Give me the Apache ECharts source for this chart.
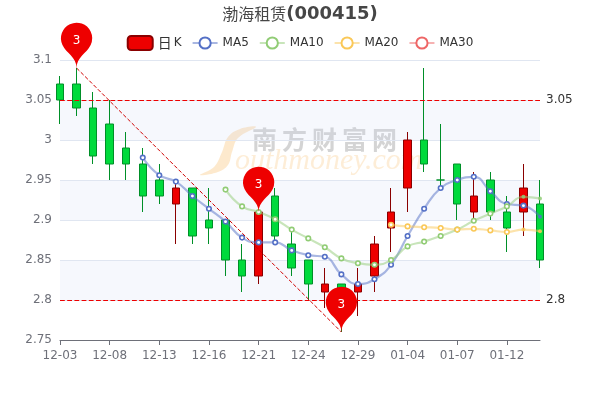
<!DOCTYPE html>
<html><head><meta charset="utf-8">
<style>html,body{margin:0;padding:0;background:#fff}#c{width:600px;height:400px}</style>
<script src="https://cdn.jsdelivr.net/npm/echarts@6/dist/echarts.min.js"></script>
</head><body><div id="c"></div>
<script>
const categories=['12-03','12-06','12-07','12-08','12-09','12-10','12-13','12-14','12-15','12-16','12-17','12-20','12-21','12-22','12-23','12-24','12-27','12-28','12-29','12-30','12-31','01-04','01-05','01-06','01-07','01-10','01-11','01-12','01-13','01-14'];
// open, close, low, high
const kline=[
[3.07,3.05,3.02,3.08],[3.07,3.04,3.03,3.09],[3.04,2.98,2.97,3.06],[3.02,2.97,2.95,3.05],[2.99,2.97,2.95,3.01],
[2.97,2.93,2.91,2.99],[2.95,2.93,2.92,2.97],[2.92,2.94,2.87,2.95],[2.94,2.88,2.87,2.94],[2.90,2.89,2.87,2.94],
[2.90,2.85,2.83,2.90],[2.85,2.83,2.81,2.87],[2.83,2.91,2.82,2.91],[2.93,2.88,2.875,2.94],[2.87,2.84,2.83,2.89],
[2.85,2.82,2.80,2.85],[2.81,2.82,2.79,2.84],[2.82,2.80,2.76,2.82],[2.81,2.82,2.78,2.84],[2.83,2.87,2.81,2.88],
[2.89,2.91,2.86,2.94],[2.94,3.00,2.91,3.01],[3.00,2.97,2.96,3.09],[2.95,2.95,2.94,3.02],[2.97,2.92,2.90,2.97],
[2.91,2.93,2.90,2.96],[2.95,2.91,2.90,2.96],[2.91,2.89,2.86,2.93],[2.91,2.94,2.88,2.97],[2.92,2.85,2.84,2.95]];
const N='-';
const ma5=[N,N,N,N,N,2.978,2.956,2.948,2.93,2.914,2.898,2.878,2.872,2.872,2.862,2.856,2.854,2.832,2.82,2.826,2.844,2.88,2.914,2.94,2.95,2.954,2.936,2.92,2.918,2.904];
const ma10=[N,N,N,N,N,N,N,N,N,N,2.938,2.917,2.91,2.901,2.888,2.877,2.866,2.852,2.846,2.844,2.85,2.867,2.873,2.88,2.888,2.899,2.908,2.917,2.929,2.927];
const ma20=[N,N,N,N,N,N,N,N,N,N,N,N,N,N,N,N,N,N,N,N,2.894,2.892,2.891,2.89,2.888,2.889,2.887,2.885,2.888,2.886];
const ma30=categories.map(()=>N);
const upperLine=3.05, lowerLine=2.8;
const pins=[[1,3.09],[12,2.91],[17,2.76]];
const trend=[[1,3.09],[17,2.76]];

const maSeries=(name,data,color,filled)=>({name,type:'line',
 data:data.map((v,i)=>filled.includes(i)?{value:v,symbolSize:4,itemStyle:{color,borderWidth:0,opacity:.85}}:v),
 smooth:true,symbol:'circle',symbolSize:4.5,showSymbol:true,
 itemStyle:{color:'#fff',borderColor:color,borderWidth:1.6},lineStyle:{color,width:2.2,opacity:.5},z:3});
const chart=echarts.init(document.getElementById('c'),null,{renderer:'canvas'});
chart.setOption({
 animation:false,backgroundColor:'#fff',
 title:{left:'center',top:0,text:'{a|渤海租赁}{b|(000415)}',textStyle:{rich:{a:{fontSize:16,color:'#464646',fontFamily:'Noto Sans CJK SC',fontWeight:'normal'},b:{fontSize:18,color:'#464646',fontFamily:'DejaVu Sans',fontWeight:'bold'}}}},
 legend:{top:30,left:'center',itemWidth:25,itemHeight:14,itemGap:10,
  textStyle:{fontFamily:'DejaVu Sans',fontSize:12,color:'#333',rich:{big:{fontSize:14,fontFamily:'Noto Sans CJK SC',color:'#333'},k:{fontSize:12,fontFamily:'DejaVu Sans',color:'#333',padding:[0,0,0,2]}}},
  formatter:n=>n==='日K'?'{big|日}{k|K}':n,
  data:[{name:'日K',itemStyle:{borderWidth:2}},'MA5','MA10','MA20','MA30']},
 grid:{left:60,right:60,top:60,bottom:60},
 graphic:[
  {type:'polygon',silent:true,z:0,shape:{smooth:0.4,points:[[256,127],[240,129],[228,137],[222,152],[214,167],[200,175],[218,172],[228,165],[232,152],[238,138]]},style:{fill:'rgba(250,200,130,0.4)'}},
  {type:'text',silent:true,z:0,left:252,top:127,style:{text:'南\u2009方\u2009财\u2009富\u2009网',fill:'rgba(170,170,170,0.5)',font:'bold 25px "Noto Sans CJK SC"'}},
  {type:'text',silent:true,z:0,left:235,top:146,style:{text:'outhmoney.com',fill:'rgba(250,200,130,0.32)',font:'italic 30px "Liberation Serif"'}}
 ],
 xAxis:{type:'category',data:categories,boundaryGap:false,
  axisLine:{lineStyle:{color:'#6E7079'}},axisTick:{interval:2,alignWithLabel:true},
  axisLabel:{interval:2,color:'#6E7079',fontFamily:'DejaVu Sans',fontSize:12,margin:10},splitLine:{show:false}},
 yAxis:{type:'value',min:2.75,max:3.1,interval:0.05,scale:true,
  axisLine:{show:false},axisTick:{show:false},
  axisLabel:{color:'#6E7079',fontFamily:'DejaVu Sans',fontSize:12,padding:[4,0,0,0]},
  splitLine:{lineStyle:{color:'#E0E6F1'}},
  splitArea:{show:true,areaStyle:{color:['rgba(255,255,255,0)','rgba(200,210,240,0.16)']}}},
 series:[
  {name:'日K',type:'candlestick',data:kline,barWidth:8,z:2,
   itemStyle:{color:'#ee0000',color0:'#00da3c',borderColor:'#8A0000',borderColor0:'#008F28',borderWidth:1},
   markPoint:{symbol:'pin',symbolSize:52,itemStyle:{color:'#ee0000'},label:{color:'#fff',fontSize:12,fontFamily:'DejaVu Sans',formatter:'3'},
    data:pins.map(p=>({coord:p,value:3}))},
   markLine:{silent:true,symbol:'none',animation:false,
    data:[
     {yAxis:upperLine,lineStyle:{color:'#ee0000',type:'dashed',width:1.2},label:{position:'end',distance:6,padding:[4,0,0,0],color:'#333',fontFamily:'DejaVu Sans',fontSize:12,formatter:'3.05'}},
     {yAxis:lowerLine,lineStyle:{color:'#ee0000',type:'dashed',width:1.2},label:{position:'end',distance:6,padding:[4,0,0,0],color:'#333',fontFamily:'DejaVu Sans',fontSize:12,formatter:'2.8'}},
     [{coord:trend[0],lineStyle:{color:'#d00000',type:[4,2],width:1},label:{show:false}},{coord:trend[1]}]
    ]}},
  maSeries('MA5',ma5,'#5470c6',[29]),
  maSeries('MA10',ma10,'#91cc75',[28,29]),
  maSeries('MA20',ma20,'#fac858',[28,29]),
  maSeries('MA30',ma30,'#ee6666',[])
 ]
});
</script></body></html>
